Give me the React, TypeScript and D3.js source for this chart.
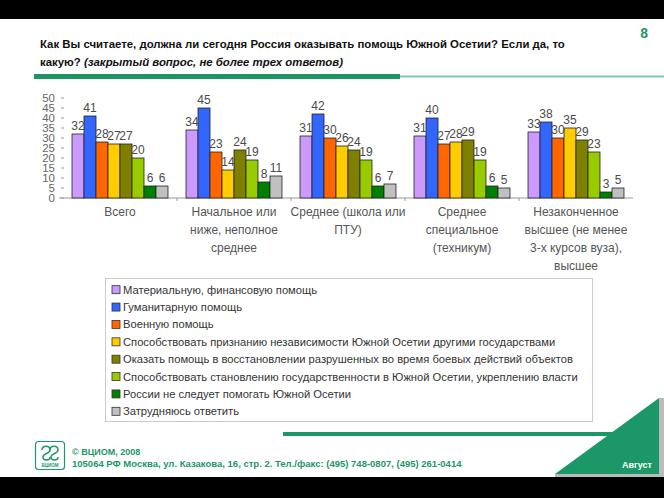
import * as d3 from 'd3';

const categories = [
  ['Всего'],
  ['Начальное или', 'ниже, неполное', 'среднее'],
  ['Среднее (школа или', 'ПТУ)'],
  ['Среднее', 'специальное', '(техникум)'],
  ['Незаконченное', 'высшее (не менее', '3-х курсов вуза),', 'высшее'],
];

const seriesNames = [
  'Материальную, финансовую помощь',
  'Гуманитарную помощь',
  'Военную помощь',
  'Способствовать признанию независимости Южной Осетии другими государствами',
  'Оказать помощь в восстановлении разрушенных во время боевых действий объектов',
  'Способствовать становлению государственности в Южной Осетии, укреплению власти',
  'России не следует помогать Южной Осетии',
  'Затрудняюсь ответить',
];

// values per category, in series order
const values = [
  [32, 41, 28, 27, 27, 20, 6, 6],
  [34, 45, 23, 14, 24, 19, 8, 11],
  [31, 42, 30, 26, 24, 19, 6, 7],
  [31, 40, 27, 28, 29, 19, 6, 5],
  [33, 38, 30, 35, 29, 23, 3, 5],
];

const colors = ['#cc99ff', '#3366ff', '#ff6600', '#ffcc00', '#808000', '#99cc00', '#008000', '#c0c0c0'];

const yTicks = [0, 5, 10, 15, 20, 25, 30, 35, 40, 45, 50];

const W = 664;
const H = 498;
const green = '#1b9768';
const font = "'Liberation Sans', Arial, sans-serif";

export default function App() {
  const x0 = d3
    .scaleBand<number>()
    .domain(categories.map((_, i) => i))
    .range([63, 633])
    .paddingInner(0.158)
    .paddingOuter(0.079);
  const x1 = d3
    .scaleBand<number>()
    .domain(seriesNames.map((_, i) => i))
    .range([0, x0.bandwidth()]);
  const y = d3.scaleLinear().domain([0, 50]).range([198, 98]);

  const legend = d3
    .scaleBand<number>()
    .domain(seriesNames.map((_, i) => i))
    .range([281, 420]);

  return (
    <svg
      width={W}
      height={H}
      style={{ position: 'absolute', left: 0, top: 0, background: '#fff' }}
      fontFamily={font}
    >
      {/* header */}
      <rect x={0} y={0} width={W} height={19} fill="#000" />
      <text x={648} y={38} textAnchor="end" fontSize={14} fontWeight="bold" fill={green}>
        8
      </text>
      <text x={40} y={48} fontSize={11.4} fontWeight="bold" fill="#111">
        Как Вы считаете, должна ли сегодня Россия оказывать помощь Южной Осетии? Если да, то
      </text>
      <text x={40} y={66} fontSize={11.4} fontWeight="bold" fill="#111">
        какую? <tspan fontStyle="italic">(закрытый вопрос, не более трех ответов)</tspan>
      </text>
      <rect x={400} y={75.5} width={W - 400} height={2} fill="#7cc8a6" />
      <rect x={34} y={74} width={366} height={5} fill="#1f9463" />

      {/* y axis */}
      {yTicks.map((t) => (
        <g key={t}>
          <text x={55} y={y(t) + 4} textAnchor="end" fontSize={11.5} fill="#666">
            {t}
          </text>
          <line x1={61} x2={64} y1={y(t)} y2={y(t)} stroke="#999" />
        </g>
      ))}
      <line x1={59} x2={633} y1={y(0)} y2={y(0)} stroke="#999" />
      {categories.slice(1).map((_, i) => {
        const xx = x0(i + 1)! - (x0.step() - x0.bandwidth()) / 2;
        return <line key={i} x1={xx} x2={xx} y1={y(0)} y2={y(0) + 3} stroke="#999" />;
      })}

      {/* bars */}
      {values.map((row, ci) => (
        <g key={ci} transform={`translate(${x0(ci)},0)`}>
          {row.map((v, si) => (
            <rect
              key={si}
              x={x1(si)}
              y={y(v)}
              width={x1.bandwidth()}
              height={y(0) - y(v)}
              fill={colors[si]}
              stroke="#222"
              strokeWidth={0.8}
            />
          ))}
          {row.map((v, si) => (
            <text
              key={'l' + si}
              x={x1(si)! + x1.bandwidth() / 2}
              y={y(v) - 4}
              textAnchor="middle"
              fontSize={12}
              fill="#4a4a4a"
            >
              {v}
            </text>
          ))}
        </g>
      ))}

      {/* category labels */}
      {categories.map((lines, ci) => (
        <text
          key={ci}
          x={x0(ci)! + x0.bandwidth() / 2}
          textAnchor="middle"
          fontSize={12}
          fill="#555"
        >
          {lines.map((l, li) => (
            <tspan key={li} x={x0(ci)! + x0.bandwidth() / 2} y={216 + li * 18}>
              {l}
            </tspan>
          ))}
        </text>
      ))}

      {/* legend */}
      <rect x={105.5} y={278.5} width={487} height={143} fill="#fff" stroke="#ccc" />
      {seriesNames.map((name, i) => {
        const cy = legend(i)! + legend.bandwidth() / 2;
        return (
          <g key={i}>
            <rect x={112} y={cy - 4} width={8} height={8} fill={colors[i]} stroke="#333" strokeWidth={0.8} />
            <text x={123} y={cy + 4} fontSize={11.2} fill="#333">
              {name}
            </text>
          </g>
        );
      })}

      {/* footer */}
      <rect x={283} y={432} width={335} height={4} fill={green} />
      <polygon points="659,398 659,474 555,474" fill={green} />
      <rect x={659} y={398} width={5} height={79} fill="#bbb" />
      <rect x={555} y={474} width={109} height={3} fill="#bbb" />
      <text x={652} y={468} textAnchor="end" fontSize={9} fontWeight="bold" fill="#fff">
        Август
      </text>

      <g>
        <rect x={35.5} y={441.5} width={29} height={28} rx={3} fill="#fff" stroke={green} strokeWidth={1.2} />
        <path
          d="M42,450 c0,-5 8,-5 8,0 c0,4 -7,3 -7,7 c0,4 7,4 7,0"
          fill="none"
          stroke={green}
          strokeWidth={1.5}
        />
        <path
          d="M50,450 c0,-5 8,-5 8,0 c0,4 -7,3 -7,7 c0,4 7,4 7,0"
          fill="none"
          stroke={green}
          strokeWidth={1.5}
        />
        <text x={50} y={467} textAnchor="middle" fontSize={4.5} fontWeight="bold" fill={green}>
          ВЦИОМ
        </text>
      </g>
      <text x={72} y={455} fontSize={9} fontWeight="bold" fill={green}>
        © ВЦИОМ, 2008
      </text>
      <text x={72} y={467} fontSize={9.5} fontWeight="bold" fill={green}>
        105064 РФ Москва, ул. Казакова, 16, стр. 2.  Тел./факс: (495) 748-0807, (495) 261-0414
      </text>

      <rect x={0} y={477} width={W} height={H - 477} fill="#000" />
    </svg>
  );
}
